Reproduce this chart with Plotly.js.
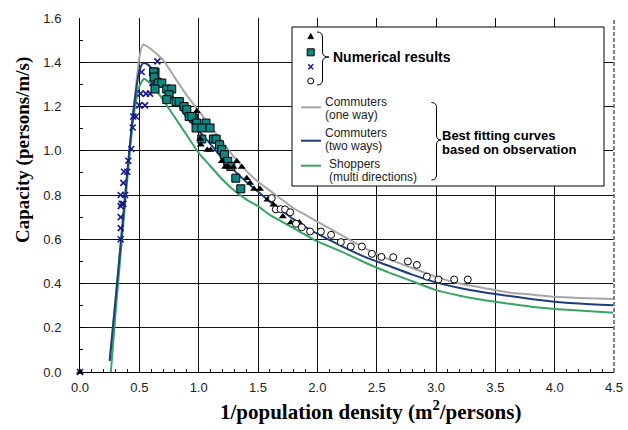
<!DOCTYPE html>
<html>
<head>
<meta charset="utf-8">
<script src="https://cdn.plot.ly/plotly-3.0.1.min.js"></script>
<style>html,body{margin:0;padding:0;background:#fff;}#chart{width:628px;height:430px;}</style>
</head>
<body>
<div id="chart"></div>
<script>
// ---- Best fitting curves (based on observation) ----
const oneWayX = [0.25,0.30,0.35,0.40,0.45,0.50,0.53,0.57,0.62,0.70,0.80,0.90,1.00,1.10,1.20,1.30,1.40,1.50,1.60,1.70,1.80,1.90,2.00,2.20,2.40,2.60,2.80,3.00,3.20,3.40,3.60,3.80,4.00,4.20,4.50];
const oneWayY = [0.05,0.33,0.62,0.91,1.18,1.42,1.48,1.47,1.45,1.41,1.33,1.25,1.18,1.11,1.04,0.97,0.91,0.86,0.82,0.78,0.74,0.71,0.68,0.62,0.56,0.51,0.47,0.43,0.40,0.38,0.36,0.35,0.34,0.335,0.33];
const twoWayX = [0.25,0.30,0.35,0.40,0.45,0.50,0.53,0.57,0.62,0.70,0.80,0.90,1.00,1.10,1.20,1.30,1.40,1.50,1.60,1.70,1.80,1.90,2.00,2.20,2.40,2.60,2.80,3.00,3.20,3.40,3.60,3.80,4.00,4.20,4.50];
const twoWayY = [0.05,0.33,0.62,0.91,1.18,1.36,1.395,1.39,1.36,1.31,1.23,1.15,1.09,1.03,0.965,0.91,0.86,0.815,0.77,0.73,0.69,0.655,0.625,0.57,0.52,0.48,0.44,0.405,0.38,0.36,0.345,0.33,0.318,0.31,0.302];
const shopX = [0.26,0.30,0.35,0.40,0.45,0.50,0.54,0.58,0.62,0.70,0.80,0.90,1.00,1.10,1.20,1.30,1.40,1.50,1.60,1.70,1.80,1.90,2.00,2.20,2.40,2.60,2.80,3.00,3.20,3.40,3.60,3.80,4.00,4.20,4.50];
const shopY = [0.0,0.27,0.58,0.88,1.15,1.29,1.325,1.31,1.29,1.23,1.15,1.07,0.99,0.93,0.87,0.82,0.78,0.75,0.71,0.68,0.65,0.62,0.59,0.545,0.495,0.45,0.41,0.37,0.345,0.325,0.31,0.295,0.285,0.278,0.268];

// ---- Numerical results ----
const triX = [0,0.984,1.012,1.018,1.073,1.10,1.195,1.223,1.25,1.293,1.321,1.363,1.405,1.433,1.467,1.517,1.58,1.63,1.653,1.709,1.777,1.849];
const triY = [0,1.178,1.053,1.027,1.003,1.003,0.952,0.927,0.927,0.927,0.953,0.926,0.876,0.854,0.827,0.827,0.778,0.756,0.743,0.703,0.676,0.676];
const sqX = [0.632,0.62,0.624,0.66,0.689,0.632,0.731,0.773,0.75,0.731,0.809,0.837,0.877,0.90,0.92,0.955,0.942,0.984,1.062,0.978,1.026,1.096,1.026,1.124,1.147,1.175,1.195,1.217,1.245,1.271,1.313,1.355];
const sqY = [1.356,1.356,1.333,1.306,1.306,1.279,1.279,1.279,1.253,1.231,1.222,1.222,1.20,1.186,1.155,1.148,1.155,1.125,1.125,1.103,1.103,1.103,1.053,1.053,1.053,1.027,1.005,0.982,0.952,0.929,0.876,0.828];
const crossX = [0,0.343,0.343,0.343,0.343,0.352,0.365,0.343,0.38,0.365,0.371,0.399,0.407,0.433,0.444,0.449,0.472,0.50,0.548,0.51,0.556,0.59,0.61,0.52,0.652];
const crossY = [0,0.60,0.65,0.70,0.75,0.76,0.855,0.80,0.80,0.76,0.905,0.905,0.955,1.008,1.105,1.155,1.155,1.205,1.205,1.258,1.258,1.258,1.306,1.356,1.404];
const circX = [1.616,1.65,1.69,1.728,1.771,1.82,1.869,1.939,2.03,2.116,2.198,2.282,2.375,2.46,2.54,2.64,2.763,2.839,2.923,3.021,3.153,3.268];
const circY = [0.786,0.735,0.736,0.735,0.722,0.67,0.654,0.635,0.635,0.62,0.587,0.567,0.567,0.534,0.52,0.519,0.5,0.484,0.431,0.418,0.418,0.418];

// ---- Axis ticks ----
const xTicks = [0,0.5,1,1.5,2,2.5,3,3.5,4,4.5];
const xTickText = ['0.0','0.5','1.0','1.5','2.0','2.5','3.0','3.5','4.0','4.5'];
const yTicks = [0,0.2,0.4,0.6,0.8,1.0,1.2,1.4,1.6];
const yTickText = ['0.0','0.2','0.4','0.6','0.8','1.0','1.2','1.4','1.6'];

const C_GRAY = '#A6A6A6', C_BLUE = '#1C3F7C', C_GREEN = '#36A563', C_TEAL = '#0E8580', C_NAVY = '#1A1A8C';

// plot area in pixels (for legend decorations only)
const L = 80, R = 614, T = 18, B = 372;
const px = p => (p - L) / (R - L);
const py = p => (B - p) / (B - T);
function P(s) {
  const toks = s.trim().split(/\s+/); const out = []; let isX = true;
  for (const t of toks) {
    if (/^[A-Za-z]$/.test(t)) { out.push(t); isX = true; }
    else { const v = parseFloat(t); out.push((isX ? px(v) : py(v)).toFixed(5)); isX = !isX; }
  }
  return out.join(' ');
}

const lineTrace = (x, y, c, name) => ({x, y, name, type: 'scatter', mode: 'lines', line: {color: c, width: 2, shape: 'spline', smoothing: 0.6}, hoverinfo: 'skip'});
const data = [
  lineTrace(oneWayX, oneWayY, C_GRAY, 'Commuters (one way)'),
  lineTrace(shopX, shopY, C_GREEN, 'Shoppers (multi directions)'),
  lineTrace(twoWayX, twoWayY, C_BLUE, 'Commuters (two ways)'),
  {x: crossX, y: crossY, type: 'scatter', mode: 'markers', cliponaxis: false, name: 'x',
   marker: {symbol: 'x-thin', size: 6, line: {color: C_NAVY, width: 1.6}, color: C_NAVY}},
  {x: sqX, y: sqY, type: 'scatter', mode: 'markers', cliponaxis: false, name: 'sq',
   marker: {symbol: 'square', size: 8, color: C_TEAL, line: {color: '#000', width: 1}}},
  {x: triX, y: triY, type: 'scatter', mode: 'markers', cliponaxis: false, name: 'tri',
   marker: {symbol: 'triangle-up', size: 7, color: '#000', line: {width: 0}}},
  {x: circX, y: circY, type: 'scatter', mode: 'markers', cliponaxis: false, name: 'circ',
   marker: {symbol: 'circle', size: 7, color: '#fff', line: {color: '#000', width: 1}}}
];

const TXT = '#222';
const ann = (x, y, text, size, bold, extra) => Object.assign({
  xref: 'paper', yref: 'paper', x: px(x), y: py(y), xanchor: 'left', yanchor: 'middle',
  text: bold ? '<b>' + text + '</b>' : text, showarrow: false, borderpad: 0,
  font: {family: 'Liberation Sans, Arial, sans-serif', size: size, color: bold ? '#000' : TXT}
}, extra || {});

const shapes = [
  // dashed right border
  {type: 'line', xref: 'paper', yref: 'paper', x0: 1, x1: 1, y0: 0, y1: 1, line: {color: '#fff', width: 2}, layer: 'above'},
  {type: 'line', xref: 'paper', yref: 'paper', x0: 1, x1: 1, y0: 0, y1: 1, line: {color: '#000', width: 1, dash: '4px,2px'}, layer: 'above'},
  // legend box
  {type: 'rect', xref: 'paper', yref: 'paper', x0: px(292), x1: px(604), y0: py(186), y1: py(27), fillcolor: '#fff', line: {color: '#000', width: 1}, layer: 'above'},
  // legend marker glyphs
  {type: 'path', xref: 'paper', yref: 'paper', path: P('M 307.7 38.8 L 313.7 38.8 L 310.7 33.2 Z'), fillcolor: '#000', line: {color: '#000', width: 0.5}, layer: 'above'},
  {type: 'rect', xref: 'paper', yref: 'paper', x0: px(307.2), x1: px(314.2), y0: py(55.8), y1: py(48.8), fillcolor: C_TEAL, line: {color: '#000', width: 1}, layer: 'above'},
  {type: 'path', xref: 'paper', yref: 'paper', path: P('M 308.2 64.2 L 313.2 69.2 M 308.2 69.2 L 313.2 64.2'), line: {color: C_NAVY, width: 1.5}, layer: 'above'},
  {type: 'circle', xref: 'paper', yref: 'paper', x0: px(307.7), x1: px(313.7), y0: py(84), y1: py(78), fillcolor: '#fff', line: {color: '#000', width: 1}, layer: 'above'},
  // legend line glyphs
  {type: 'line', xref: 'paper', yref: 'paper', x0: px(301), x1: px(321), y0: py(107.3), y1: py(107.3), line: {color: C_GRAY, width: 2}, layer: 'above'},
  {type: 'line', xref: 'paper', yref: 'paper', x0: px(301), x1: px(321), y0: py(140.7), y1: py(140.7), line: {color: C_BLUE, width: 2}, layer: 'above'},
  {type: 'line', xref: 'paper', yref: 'paper', x0: px(301), x1: px(321), y0: py(165.7), y1: py(165.7), line: {color: C_GREEN, width: 2}, layer: 'above'},
  // braces
  {type: 'path', xref: 'paper', yref: 'paper', path: P('M 317 32 Q 322.5 32 322.5 37 L 322.5 52 Q 322.5 57 329 57 Q 322.5 57 322.5 62 L 322.5 80 Q 322.5 85 317 85'), line: {color: '#000', width: 1}, layer: 'above'},
  {type: 'path', xref: 'paper', yref: 'paper', path: P('M 431.5 102.5 Q 436.5 102.5 436.5 107.5 L 436.5 135 Q 436.5 140 441 140 Q 436.5 140 436.5 145 L 436.5 175 Q 436.5 180 431.5 180'), line: {color: '#000', width: 1}, layer: 'above'}
];

const annotations = [
  ann(332, 57, 'Numerical results', 14, true),
  ann(324, 102, 'Commuters', 12, false),
  ann(324, 115, '(one way)', 12, false),
  ann(324, 133, 'Commuters', 12, false),
  ann(324, 146, '(two ways)', 12, false),
  ann(328, 163.5, 'Shoppers', 12, false),
  ann(328, 177, '(multi directions)', 12, false),
  ann(441, 135.5, 'Best fitting curves', 13, true),
  ann(441, 149, 'based on observation', 13, true),
  // axis titles
  {xref: 'paper', yref: 'paper', x: px(370), y: py(410), xanchor: 'center', yanchor: 'middle', showarrow: false,
   text: '<b>1/population density (m<sup>2</sup>/persons)</b>', font: {family: 'Liberation Serif, Times New Roman, serif', size: 21, color: '#000'}},
  {xref: 'paper', yref: 'paper', x: px(23), y: py(150), xanchor: 'center', yanchor: 'middle', showarrow: false, textangle: -90,
   text: '<b>Capacity (persons/m/s)</b>', font: {family: 'Liberation Serif, Times New Roman, serif', size: 19, color: '#000'}}
];

const axisCommon = {
  showline: true, linecolor: '#000', linewidth: 1, zeroline: false,
  showgrid: true, gridcolor: '#111', gridwidth: 1,
  ticks: 'inside', ticklen: 4, tickcolor: '#000', tickwidth: 1,
  tickfont: {family: 'Liberation Sans, Arial, sans-serif', size: 13, color: '#222'},
  fixedrange: true
};

const layout = {
  width: 628, height: 430,
  margin: {l: L, r: 628 - R, t: T, b: 430 - B},
  paper_bgcolor: '#fff', plot_bgcolor: '#fff',
  showlegend: false,
  xaxis: Object.assign({}, axisCommon, {range: [0, 4.5], tickmode: 'array', tickvals: xTicks, ticktext: xTickText, ticklabelstandoff: 3,
    minor: {dtick: 0.1, ticks: 'inside', ticklen: 3, tickcolor: '#000', showgrid: false}}),
  yaxis: Object.assign({}, axisCommon, {range: [0, 1.6], tickmode: 'array', tickvals: yTicks, ticktext: yTickText, ticklabelstandoff: 15,
    minor: {dtick: 0.1, ticks: 'inside', ticklen: 3, tickcolor: '#000', showgrid: false}}),
  shapes: shapes,
  annotations: annotations
};

Plotly.newPlot('chart', data, layout, {displayModeBar: false, staticPlot: true});
</script>
</body>
</html>
